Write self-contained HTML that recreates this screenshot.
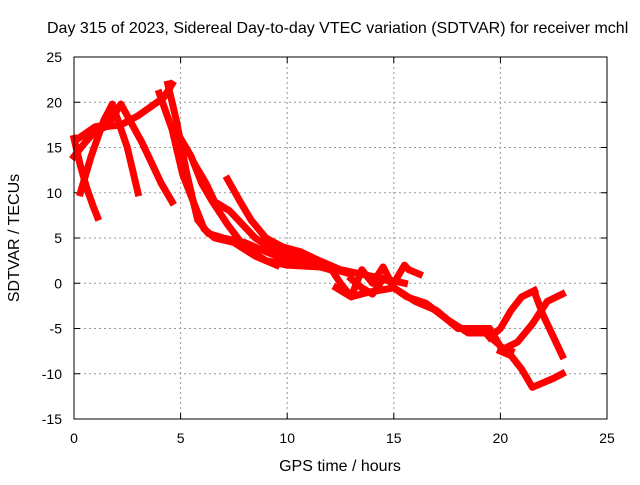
<!DOCTYPE html>
<html><head><meta charset="utf-8"><style>
body{margin:0;background:#fff;width:640px;height:480px;overflow:hidden}
svg text{font-family:"Liberation Sans",sans-serif;font-size:14px;fill:#000}
svg text.big{font-size:16px}
</style></head><body>
<svg width="640" height="480" id="c">
<text class="big" x="47" y="33">Day 315 of 2023, Sidereal Day-to-day VTEC variation (SDTVAR) for receiver mchl</text>
<text class="big" x="340" y="471" text-anchor="middle">GPS time / hours</text>
<text class="big" transform="translate(19,238) rotate(-90)" text-anchor="middle">SDTVAR / TECUs</text>
<g id="grid"></g><g id="series"></g>
<rect x="74" y="57" width="533" height="362" fill="none" stroke="#000" stroke-width="1"/>
</svg>
<script>
const xTicks=[0,5,10,15,20,25];
const yTicks=[25,20,15,10,5,0,-5,-10,-15];
const traceX=[
[0,0.3,0.6,0.9,1.1],
[0,0.5,1,1.5,2.2,3,3.6,4.2,4.6],
[0.3,0.8,1.4,1.8,2.5,3],
[0.2,1,1.6,2.2,3.2,4.1,4.6],
[4.4,4.8,5.3,5.8,6.3,7,8,9.5,10.5,12],
[4.0,4.6,5.1,5.6,6.1,6.6,7.5,8.5,9.5],
[5,5.5,6,6.5,7.2,8,9,10,11.5],
[5.7,6.2,6.6,7.3,8.5,9.5,10.3,11.5,13],
[7.2,7.8,8.3,9,9.8,10.6,11.5,12.5,13.5,14.5,15.5],
[12,12.5,13,13.5,14,14.5,15,15.6,16.5,17.5,18.5,19.3,19.8],
[13,13.5,14,14.5,15,15.5,15.7,16.2],
[12.3,13,13.8,15,16,17,18,18.8,19.5,20,20.5],
[19.5,20,20.5,21,21.6],
[20.2,20.8,21.5,22.2,22.9],
[21.6,22,22.5,22.9],
[20,20.5,21,21.5,22,22.5,22.9]
];
const traceY=[
[16,13,10.5,8.5,7.3],
[14,15.5,16.8,17.3,17.5,18.5,19.5,20.5,22],
[10,14,18,19.8,15,10],
[16,17.3,17.5,19.8,15.5,11,9],
[22,18,12,7,5.5,5,4.5,3,2.5,1.5],
[21,17,12,9,6,5,4.5,3,2],
[16,14,11,9,6.5,4,2.5,2,1.8],
[13,11,9,8,5,3.5,3,2,1],
[11.5,9,7,5,4,3.5,2.5,1.5,1,0.5,0],
[1.8,0,-1.5,1.5,0,1.8,-0.5,-1.5,-2.2,-4,-5.5,-5.5,-6.5],
[0.5,-0.5,-1.2,0.5,0,2,1.5,1],
[-0.5,-1.5,-1,-0.5,-2,-3,-5,-5,-5,-7,-7.5],
[-6,-5,-3,-1.5,-0.8],
[-7.2,-6.5,-4.5,-2,-1.2],
[-1,-3.5,-6,-8],
[-7.5,-8,-9.5,-11.5,-11,-10.5,-10]
];
const NS="http://www.w3.org/2000/svg";
const X=v=>74+v*533/25, Y=v=>57+(25-v)*362/40;
const g=document.getElementById('grid'), s=document.getElementById('series');
function mk(t,a,p){const e=document.createElementNS(NS,t);for(const k in a)e.setAttribute(k,a[k]);p.appendChild(e);return e;}
xTicks.forEach(v=>{
 if(v>0&&v<25){const l=mk('line',{x1:X(v),x2:X(v),y1:57,y2:419,stroke:'#999','stroke-dasharray':'2,3'},g);
 
 }
 mk('line',{x1:X(v),x2:X(v),y1:419,y2:413,stroke:'#000'},g);
 mk('line',{x1:X(v),x2:X(v),y1:57,y2:63,stroke:'#000'},g);
 const t=mk('text',{x:X(v),y:443,'text-anchor':'middle'},g);t.textContent=v;
 
 
});
yTicks.forEach(v=>{
 if(v>-15&&v<25){const l=mk('line',{x1:74,x2:607,y1:Y(v),y2:Y(v),stroke:'#999','stroke-dasharray':'2,3'},g);
 
 }
 mk('line',{x1:74,x2:80,y1:Y(v),y2:Y(v),stroke:'#000'},g);
 mk('line',{x1:607,x2:601,y1:Y(v),y2:Y(v),stroke:'#000'},g);
 const t=mk('text',{x:62,y:Y(v)+5,'text-anchor':'end'},g);t.textContent=v;
 
 
});
traceX.forEach((xs,i)=>{
 const pts=xs.map((x,j)=>X(x)+','+Y(traceY[i][j])).join(' ');
 const p=mk('polyline',{points:pts,fill:'none',stroke:'#ff0000','stroke-width':7,'stroke-linejoin':'round','stroke-linecap':'square'},s);
 
 
});
</script>
</body></html>
